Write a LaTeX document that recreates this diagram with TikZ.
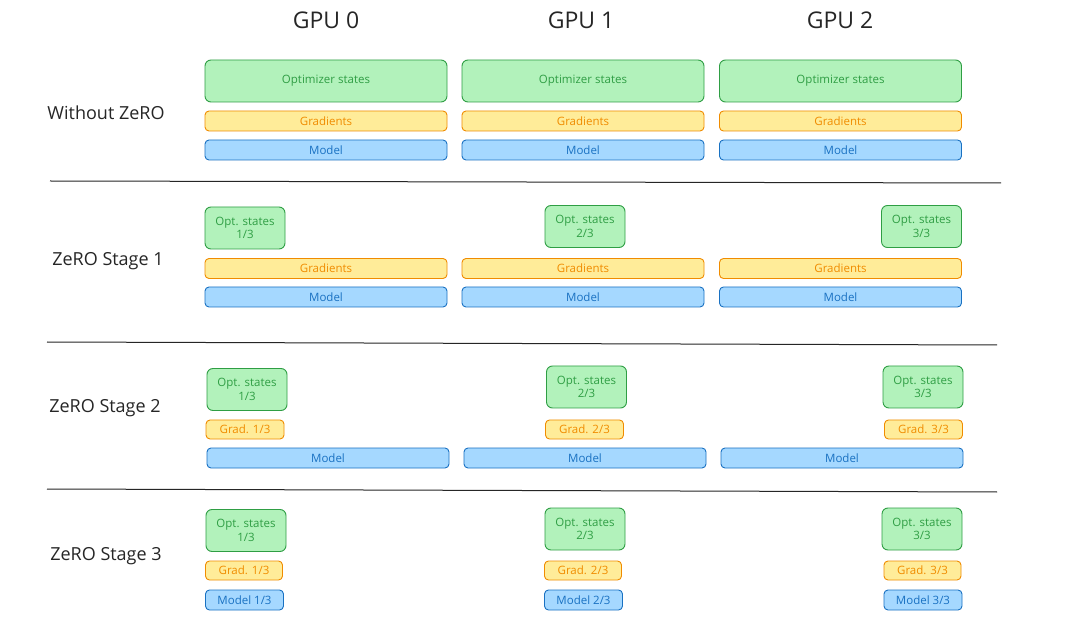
\documentclass[tikz,border=0pt]{standalone}
\usepackage{fontspec}
\setmainfont{Open Sans}
\begin{document}
\begin{tikzpicture}[x=1pt, y=-1pt,
    box/.style={draw, line width=0.9pt, rounded corners=4pt, inner sep=0pt,
        align=center, font=\fontsize{11.5}{13.5}\selectfont},
    optbox/.style={box, fill=optFill, draw=optLine, text=optLine, rounded corners=6pt},
    gradbox/.style={box, fill=gradFill, draw=gradLine, text=gradLine},
    modelbox/.style={box, fill=modelFill, draw=modelLine, text=modelLine},
    rowlabel/.style={font=\fontsize{18}{21}\selectfont, text=black!85},
    gpulabel/.style={font=\fontsize{23}{26}\selectfont, text=black!85}]
    \definecolor{optFill}{HTML}{B2F2BB}
    \definecolor{optLine}{HTML}{2F9E44}
    \definecolor{gradFill}{HTML}{FFEC99}
    \definecolor{gradLine}{HTML}{F08C00}
    \definecolor{modelFill}{HTML}{A5D8FF}
    \definecolor{modelLine}{HTML}{1971C2}

    \def\fullW{242}

    % Canvas
    \fill[white] (0,0) rectangle (1077,628);
    \useasboundingbox (0,0) rectangle (1077,628);

    % GPU headers
    \foreach \g/\cx in {0/326,1/581,2/840}
        \node[gpulabel] (gpu\g) at (\cx,20) {GPU \g};

    % Row labels
    \node[rowlabel] (rowNone) at (106,113) {Without ZeRO};
    \node[rowlabel] (rowOne) at (108,261) {ZeRO Stage 1};
    \node[rowlabel] (rowTwo) at (105,408) {ZeRO Stage 2};
    \node[rowlabel] (rowThree) at (106,556) {ZeRO Stage 3};

    % Without ZeRO: everything replicated
    \foreach \g/\cx in {0/326,1/583,2/840.5} {
        \node[optbox, minimum width=\fullW, minimum height=42] (noneOpt\g) at (\cx,81) {Optimizer states};
        \node[gradbox, minimum width=\fullW, minimum height=20] (noneGrad\g) at (\cx,121) {Gradients};
        \node[modelbox, minimum width=\fullW, minimum height=20] (noneModel\g) at (\cx,150) {Model};
    }

    % Stage 1: optimizer states partitioned
    \foreach \g/\cx/\ox/\oy in {0/326/245/228,1/583/585/226.5,2/840.5/921.5/226.5} {
        \pgfmathtruncatemacro{\k}{\g+1}
        \node[optbox, minimum width=80, minimum height=42] (oneOpt\g) at (\ox,\oy) {Opt. states\\\k/3};
        \node[gradbox, minimum width=\fullW, minimum height=20] (oneGrad\g) at (\cx,268.5) {Gradients};
        \node[modelbox, minimum width=\fullW, minimum height=20] (oneModel\g) at (\cx,297) {Model};
    }

    % Stage 2: + gradients partitioned
    \foreach \g/\cx/\ox/\oy/\gx in {0/328/247/389.5/245,1/585/586.5/387/584.5,2/842/923/387/923.5} {
        \pgfmathtruncatemacro{\k}{\g+1}
        \node[optbox, minimum width=80, minimum height=42] (twoOpt\g) at (\ox,\oy) {Opt. states\\\k/3};
        \node[gradbox, minimum width=78, minimum height=19] (twoGrad\g) at (\gx,429.5) {Grad. \k/3};
        \node[modelbox, minimum width=\fullW, minimum height=20] (twoModel\g) at (\cx,458) {Model};
    }

    % Stage 3: + model partitioned
    \foreach \g/\ox/\oy/\gx/\mx in {0/246/530.5/244/244.5,1/585/529/583/583.5,2/922/529/922.5/923} {
        \pgfmathtruncatemacro{\k}{\g+1}
        \node[optbox, minimum width=80, minimum height=42] (threeOpt\g) at (\ox,\oy) {Opt. states\\\k/3};
        \node[gradbox, minimum width=77, minimum height=19] (threeGrad\g) at (\gx,570.5) {Grad. \k/3};
        \node[modelbox, minimum width=78, minimum height=20] (threeModel\g) at (\mx,600) {Model \k/3};
    }

    % Separators
    \draw[line width=1pt, black!85] (50,181) -- (1001,183);
    \draw[line width=1pt, black!85] (47,342) -- (997,345);
    \draw[line width=1pt, black!85] (47,489) -- (997,492);

\end{tikzpicture}
\end{document}
